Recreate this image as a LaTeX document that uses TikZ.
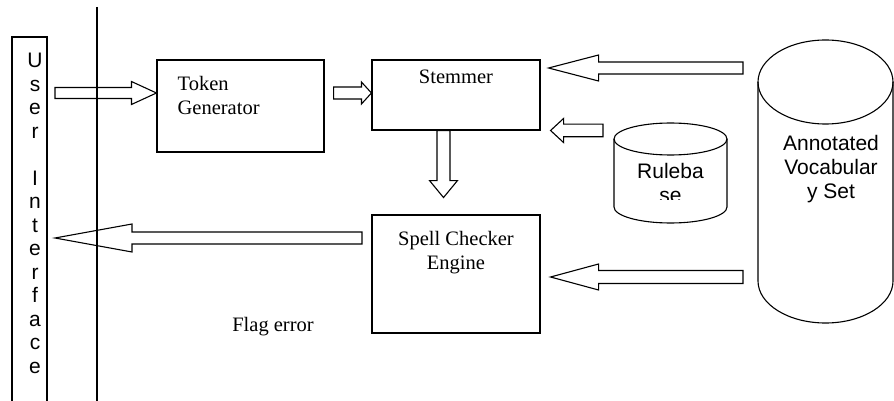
\documentclass[tikz,border=0pt]{standalone}
\usepackage{fontspec}
\setmainfont{Liberation Serif}
\newfontfamily\arialfont{Liberation Sans}
\usetikzlibrary{calc, positioning}

% block arrow: tail, tip, shaft half width, head half width, head length
\newcommand{\fatarrow}[5]{%
  \coordinate (hb) at ($(#2)!#5!(#1)$);
  \draw[fat] ($(#1)!#3!90:(#2)$) -- ($(hb)!#3!90:(#2)$) -- ($(hb)!#4!90:(#2)$) -- (#2)
    -- ($(hb)!#4!-90:(#2)$) -- ($(hb)!#3!-90:(#2)$) -- ($(#1)!#3!-90:(#2)$) -- cycle;
}
% database drum: cx, top y, bottom y, x radius, y radius
\newcommand{\drum}[5]{%
  \draw[box] (#1-#4,#2) -- (#1-#4,#3) arc[start angle=180, end angle=0, x radius=#4, y radius=#5] -- (#1+#4,#2);
  \draw[box] (#1,#2) ellipse[x radius=#4, y radius=#5];
}

\begin{document}
\begin{tikzpicture}[x=1pt, y=-1pt,
  box/.style={draw, line width=1.1pt, inner sep=0pt},
  fat/.style={draw, line width=1.1pt, line join=miter},
  lbl/.style={font=\fontsize{20.5}{24}\selectfont, align=center, inner sep=0pt},
  sanslbl/.style={font=\arialfont\fontsize{21}{24}\selectfont, align=center, inner sep=0pt}]
  \useasboundingbox (0,0) rectangle (894,401);

  % User interface column
  \node[box, minimum width=35pt, minimum height=380pt] (ui) at (29.5,227) {};
  \node[sanslbl, anchor=north, font=\arialfont\fontsize{21}{23.5}\selectfont] (uitext) at (35,53)
    {U\\s\\e\\r\\[23.5pt]I\\n\\t\\e\\r\\f\\a\\c\\e};
  \draw[line width=1.1pt] (97,7) -- (97,401);

  % Boxes
  \node[box, minimum width=167pt, minimum height=92pt,
    label={[lbl, align=left, anchor=north west, xshift=21pt, yshift=-17pt]north west:Token\\Generator}]
    (tok) at (240.5,106) {};
  \node[box, minimum width=168pt, minimum height=70pt,
    label={[lbl, anchor=north, yshift=-10pt]north:Stemmer}]
    (stem) at (456,95) {};
  \node[box, minimum width=168pt, minimum height=118pt,
    label={[lbl, anchor=north, yshift=-17pt]north:Spell Checker\\Engine}]
    (spell) at (456,274) {};
  \node[lbl, anchor=north] (flag) at (273,317) {Flag error};

  % Stores
  \drum{670.5}{139}{207}{56.5}{16}
  \begin{scope}
    \clip (600,150) rectangle (740,199.5);
    \node[sanslbl, anchor=north] (rule) at (670.5,163) {Ruleba\\se};
  \end{scope}
  \drum{825.5}{82}{281}{67.5}{42}
  \node[sanslbl, anchor=north] (vocab) at (831,135) {Annotated\\Vocabular\\y Set};

  % Arrow ends
  \coordinate (uiout) at (55,93);
  \coordinate (tokin) at (tok.west |- uiout);
  \coordinate (tokout) at ($(tok.east |- uiout)+(9,0)$);
  \coordinate (stemin) at (stem.west |- tokout);
  \coordinate (stemdown) at ($(stem.south)+(-12.5,0)$);
  \coordinate (spellin) at ($(stemdown)+(0,67)$);
  \coordinate (spellout) at (362,238);
  \coordinate (uiin) at (55,238);
  \coordinate (vocabtop) at (743,68);
  \coordinate (stemtop) at ($(stem.east |- vocabtop)+(8,0)$);
  \coordinate (ruleout) at (603,130.5);
  \coordinate (stemlow) at ($(stem.east |- ruleout)+(10,0)$);
  \coordinate (vocabbot) at (743,277);
  \coordinate (spellright) at ($(spell.east |- vocabbot)+(10,0)$);

  % Block arrows
  \fatarrow{uiout}{tokin}{5.5pt}{11.5pt}{25pt}
  \fatarrow{tokout}{stemin}{6pt}{11pt}{10pt}
  \fatarrow{stemdown}{spellin}{6.5pt}{14pt}{17pt}
  \fatarrow{spellout}{uiin}{6pt}{14pt}{77pt}
  \fatarrow{vocabtop}{stemtop}{6pt}{13pt}{50pt}
  \fatarrow{ruleout}{stemlow}{6.3pt}{12pt}{13pt}
  \fatarrow{vocabbot}{spellright}{6.5pt}{13pt}{48pt}
\end{tikzpicture}
\end{document}
